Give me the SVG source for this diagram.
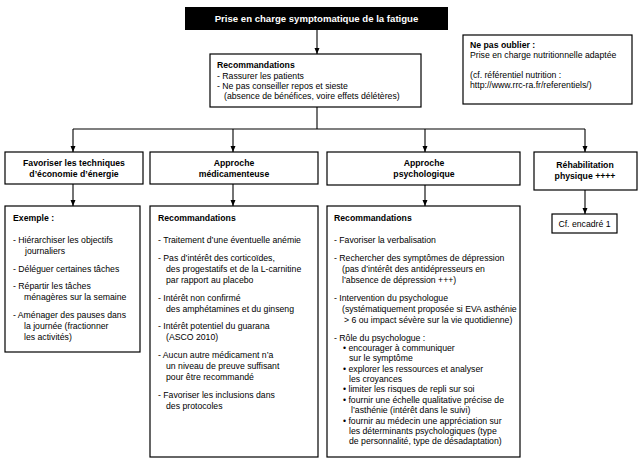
<svg xmlns="http://www.w3.org/2000/svg" width="641" height="467" viewBox="0 0 641 467">
<defs>
<marker id="ah" viewBox="0 0 6 6" refX="6" refY="3" markerWidth="6" markerHeight="6" markerUnits="userSpaceOnUse" orient="auto">
<path d="M0,0.5 L6,3 L0,5.5 Z" fill="#000"/>
</marker>
<style>
.box{fill:#fff;stroke:#000;stroke-width:1.2}
.t{font-family:"Liberation Sans",Arial,sans-serif;font-size:8.7px;fill:#000}
.b{font-weight:bold}
.c{text-anchor:middle}
.ln{fill:none;stroke:#000;stroke-width:1.1}
</style>
</defs>
<rect width="641" height="467" fill="#fff"/>
<g id="connectors">
<line class="ln" x1="317" y1="30" x2="317" y2="54" marker-end="url(#ah)"/>
<path class="ln" d="M317,107 V129 M73,129 H585"/>
<line class="ln" x1="73" y1="129" x2="73" y2="152" marker-end="url(#ah)"/>
<line class="ln" x1="233" y1="129" x2="233" y2="152" marker-end="url(#ah)"/>
<line class="ln" x1="425" y1="129" x2="425" y2="152" marker-end="url(#ah)"/>
<line class="ln" x1="585" y1="129" x2="585" y2="152" marker-end="url(#ah)"/>
<line class="ln" x1="73" y1="184" x2="73" y2="206" marker-end="url(#ah)"/>
<line class="ln" x1="233" y1="184" x2="233" y2="206" marker-end="url(#ah)"/>
<line class="ln" x1="425" y1="185" x2="425" y2="206" marker-end="url(#ah)"/>
<line class="ln" x1="585" y1="190" x2="585" y2="214" marker-end="url(#ah)"/>
</g>
<g id="title">
<rect x="185" y="7" width="263" height="23" fill="#000"/>
<text class="t b c" x="316.5" y="22" style="fill:#fff;font-size:9.6px">Prise en charge symptomatique de la fatigue</text>
</g>
<g id="reco">
<rect class="box" x="210" y="54" width="211" height="53"/>
<text class="t b" x="217" y="68">Recommandations</text>
<text class="t" x="217" y="79">-  Rassurer les patients</text>
<text class="t" x="217" y="89">-  Ne pas conseiller repos et sieste</text>
<text class="t" x="224" y="99">(absence de bénéfices, voire effets délétères)</text>
</g>
<g id="note">
<rect class="box" x="463" y="35" width="169" height="69"/>
<text class="t b" x="470" y="48">Ne pas oublier :</text>
<text class="t" x="470" y="58">Prise en charge nutritionnelle adaptée</text>
<text class="t" x="470" y="78">(cf. référentiel nutrition :</text>
<text class="t" x="470" y="88">http://www.rrc-ra.fr/referentiels/)</text>
</g>
<g id="n1">
<rect class="box" x="5" y="152" width="138" height="32"/>
<text class="t b c" x="74" y="166">Favoriser les techniques</text>
<text class="t b c" x="74" y="177">d’économie d’énergie</text>
</g>
<g id="n2">
<rect class="box" x="150" y="152" width="168" height="32"/>
<text class="t b c" x="234" y="166">Approche</text>
<text class="t b c" x="234" y="177">médicamenteuse</text>
</g>
<g id="n3">
<rect class="box" x="327" y="152" width="193" height="33"/>
<text class="t b c" x="424" y="166">Approche</text>
<text class="t b c" x="424" y="177">psychologique</text>
</g>
<g id="n4">
<rect class="box" x="534" y="152" width="103" height="38"/>
<text class="t b c" x="585" y="168">Réhabilitation</text>
<text class="t b c" x="585" y="179">physique ++++</text>
</g>
<g id="d1">
<rect class="box" x="5" y="206" width="135" height="146"/>
<text class="t b" x="13" y="221">Exemple :</text>
<text class="t" x="13" y="243">-  Hiérarchiser les objectifs</text>
<text class="t" x="25" y="254">journaliers</text>
<text class="t" x="13" y="272">-  Déléguer certaines tâches</text>
<text class="t" x="13" y="289">-  Répartir les tâches</text>
<text class="t" x="24" y="300">ménagères sur la semaine</text>
<text class="t" x="13" y="318">-  Aménager des pauses dans</text>
<text class="t" x="24" y="329">la journée (fractionner</text>
<text class="t" x="24" y="340">les activités)</text>
</g>
<g id="d2">
<rect class="box" x="150" y="206" width="168" height="251"/>
<text class="t b" x="158" y="221">Recommandations</text>
<text class="t" x="158" y="243">-  Traitement d’une éventuelle anémie</text>
<text class="t" x="158" y="261">-  Pas d’intérêt des corticoïdes,</text>
<text class="t" x="166" y="272">des progestatifs et de la L-carnitine</text>
<text class="t" x="166" y="283">par rapport au placebo</text>
<text class="t" x="158" y="301">-  Intérêt non confirmé</text>
<text class="t" x="166" y="312">des amphétamines et du ginseng</text>
<text class="t" x="158" y="329">-  Intérêt potentiel du guarana</text>
<text class="t" x="166" y="340">(ASCO 2010)</text>
<text class="t" x="158" y="358">-  Aucun autre médicament n’a</text>
<text class="t" x="166" y="369">un niveau de preuve suffisant</text>
<text class="t" x="166" y="380">pour être recommandé</text>
<text class="t" x="158" y="398">-  Favoriser les inclusions dans</text>
<text class="t" x="166" y="409">des protocoles</text>
</g>
<g id="d3">
<rect class="box" x="327" y="206" width="193" height="251"/>
<text class="t b" x="334" y="221">Recommandations</text>
<text class="t" x="334" y="243">-  Favoriser la verbalisation</text>
<text class="t" x="334" y="261">-  Rechercher des symptômes de dépression</text>
<text class="t" x="342" y="272">(pas d’intérêt des antidépresseurs en</text>
<text class="t" x="342" y="283">l’absence de dépression +++)</text>
<text class="t" x="334" y="301">-  Intervention du psychologue</text>
<text class="t" x="342" y="312">(systématiquement proposée si EVA asthénie</text>
<text class="t" x="344" y="323">&gt; 6 ou impact sévère sur la vie quotidienne)</text>
<text class="t" x="334" y="341">-  Rôle du psychologue :</text>
<text class="t" x="343" y="351">•  encourager à communiquer</text>
<text class="t" x="349" y="361">sur le symptôme</text>
<text class="t" x="343" y="372">•  explorer les ressources et analyser</text>
<text class="t" x="349" y="382">les croyances</text>
<text class="t" x="343" y="392">•  limiter les risques de repli sur soi</text>
<text class="t" x="343" y="403">•  fournir une échelle qualitative précise de</text>
<text class="t" x="351" y="413">l’asthénie (intérêt dans le suivi)</text>
<text class="t" x="343" y="424">•  fournir au médecin une appréciation sur</text>
<text class="t" x="349" y="434">les déterminants psychologiques (type</text>
<text class="t" x="349" y="444">de personnalité, type de désadaptation)</text>
</g>
<g id="d4">
<rect class="box" x="552" y="214" width="65" height="19"/>
<text class="t c" x="584.5" y="226.5">Cf. encadré 1</text>
</g>
</svg>
